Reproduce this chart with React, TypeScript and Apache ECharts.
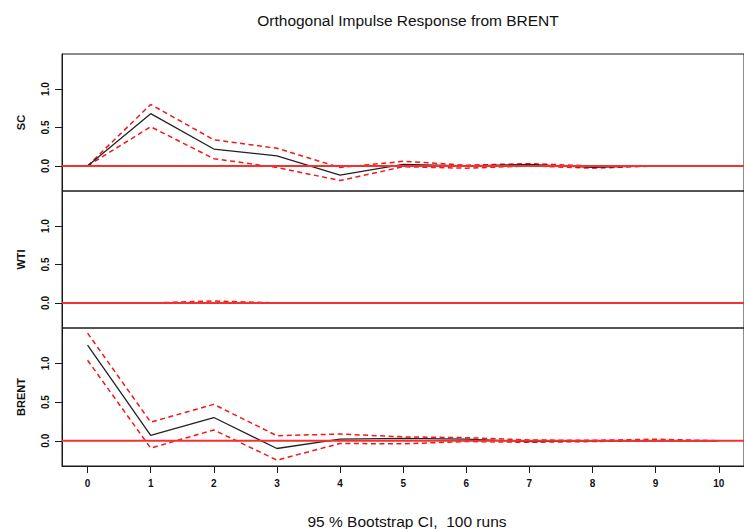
import React, { useEffect, useRef } from "react";
import * as echarts from "echarts";

// Forecast horizon (steps ahead)
const steps = [0, 1, 2, 3, 4, 5, 6, 7, 8, 9, 10];

// Response of SC to a BRENT shock
const scIrf = [0, 0.68, 0.22, 0.13, -0.12, 0.02, 0.0, 0.02, -0.02, 0.0, 0.0];
const scLower = [0, 0.51, 0.095, -0.02, -0.19, -0.01, -0.03, 0.0, -0.03, 0.0, 0.0];
const scUpper = [0, 0.8, 0.34, 0.23, -0.02, 0.06, 0.01, 0.03, 0.0, 0.0, 0.0];

// Response of WTI to a BRENT shock
const wtiIrf = [0, 0, 0, 0, 0, 0, 0, 0, 0, 0, 0];
const wtiLower = [0, 0, 0, 0, 0, 0, 0, 0, 0, 0, 0];
const wtiUpper = [0, 0, 0.025, 0, 0, 0, 0, 0, 0, 0, 0];

// Response of BRENT to its own shock
const brentIrf = [1.234, 0.07, 0.3, -0.1, 0.02, 0.03, 0.02, -0.01, 0.0, 0.0, 0.0];
const brentLower = [1.04, -0.095, 0.14, -0.25, -0.035, -0.04, -0.01, -0.02, -0.01, 0.0, 0.0];
const brentUpper = [1.39, 0.24, 0.47, 0.065, 0.087, 0.05, 0.04, 0.01, 0.005, 0.02, 0.0];

const panelNames = ["SC", "WTI", "BRENT"];
const yTicks = [0, 0.5, 1.0];

const panels = [
  { irf: scIrf, lower: scLower, upper: scUpper },
  { irf: wtiIrf, lower: wtiLower, upper: wtiUpper },
  { irf: brentIrf, lower: brentLower, upper: brentUpper },
];

// Axis extents (R-style 4% padding around the data range)
const X_MIN = -0.405;
const X_MAX = 10.4;
const Y_MIN = -0.326;
const Y_MAX = 1.456;

const FONT = "Liberation Sans, Arial, sans-serif";
const INK = "#1a1a1a";
const RED = "#f01818";

const pairs = (vals: number[]) => steps.map((s, k) => [s, vals[k]]);

export default function App() {
  const ref = useRef<HTMLDivElement>(null);

  useEffect(() => {
    if (!ref.current) return;
    const chart = echarts.init(ref.current, null, { renderer: "svg" });

    const grids = [
      { left: 62, top: 54, width: 693, height: 137 },
      { left: 62, top: 191, width: 693, height: 137 },
      { left: 62, top: 328, width: 693, height: 138 },
    ].map((g) => ({
      ...g,
      show: true,
      borderColor: INK,
      borderWidth: 1,
      backgroundColor: "transparent",
    }));

    const xAxes = panels.map((_, i) => ({
      gridIndex: i,
      type: "value",
      min: X_MIN,
      max: X_MAX,
      show: i === 2,
      splitLine: { show: false },
      axisLine: { show: true, onZero: false, lineStyle: { color: INK, width: 1 } },
      axisTick: {
        show: true,
        customValues: steps,
        length: 7,
        lineStyle: { color: INK, width: 1 },
      },
      axisLabel: {
        customValues: steps,
        margin: 12,
        fontSize: 10,
        fontWeight: "bold",
        color: "#111",
        fontFamily: FONT,
      },
    }));

    const yAxes = panels.map((_, i) => ({
      gridIndex: i,
      type: "value",
      min: Y_MIN,
      max: Y_MAX,
      name: panelNames[i],
      nameLocation: "middle",
      nameRotate: 90,
      nameGap: 36,
      nameTextStyle: {
        fontSize: 11,
        fontWeight: "bold",
        color: "#111",
        fontFamily: FONT,
      },
      splitLine: { show: false },
      axisLine: { show: true, onZero: false, lineStyle: { color: INK, width: 1 } },
      axisTick: {
        show: true,
        customValues: yTicks,
        length: 7,
        lineStyle: { color: INK, width: 1 },
      },
      axisLabel: {
        customValues: yTicks,
        formatter: (v: number) => v.toFixed(1),
        rotate: 90,
        margin: 12,
        fontSize: 10,
        fontWeight: "bold",
        color: "#111",
        fontFamily: FONT,
      },
    }));

    const series: any[] = [];
    panels.forEach((p, i) => {
      const base = {
        type: "line",
        xAxisIndex: i,
        yAxisIndex: i,
        symbol: "none",
        silent: true,
      };
      series.push({
        ...base,
        name: `${panelNames[i]} lower`,
        data: pairs(p.lower),
        z: 2,
        lineStyle: { color: RED, width: 1.5, type: [5, 3.5] },
      });
      series.push({
        ...base,
        name: `${panelNames[i]} upper`,
        data: pairs(p.upper),
        z: 2,
        lineStyle: { color: RED, width: 1.5, type: [5, 3.5] },
      });
      series.push({
        ...base,
        name: `${panelNames[i]} irf`,
        data: pairs(p.irf),
        z: 3,
        lineStyle: { color: "#222", width: 1.3 },
      });
      // horizontal reference at zero, spanning the whole panel, drawn on top
      series.push({
        ...base,
        name: `${panelNames[i]} zero`,
        data: [
          [X_MIN, 0],
          [X_MAX, 0],
        ],
        z: 10,
        lineStyle: { color: "#f43030", width: 2, type: "solid" },
      });
    });

    chart.setOption({
      animation: false,
      backgroundColor: "#ffffff",
      grid: grids,
      xAxis: xAxes,
      yAxis: yAxes,
      series,
      graphic: [
        {
          type: "text",
          x: 408,
          y: 20,
          style: {
            text: "Orthogonal Impulse Response from BRENT",
            textAlign: "center",
            textVerticalAlign: "middle",
            fontSize: 15.5,
            fontFamily: FONT,
            fill: "#111",
          },
        },
        {
          type: "text",
          x: 407,
          y: 521,
          style: {
            text: "95 % Bootstrap CI,  100 runs",
            textAlign: "center",
            textVerticalAlign: "middle",
            fontSize: 15.5,
            fontFamily: FONT,
            fill: "#111",
          },
        },
      ],
    });

    return () => chart.dispose();
  }, []);

  return (
    <div
      ref={ref}
      style={{
        position: "fixed",
        left: 0,
        top: 0,
        width: 744,
        height: 529,
        background: "#fff",
      }}
    />
  );
}
